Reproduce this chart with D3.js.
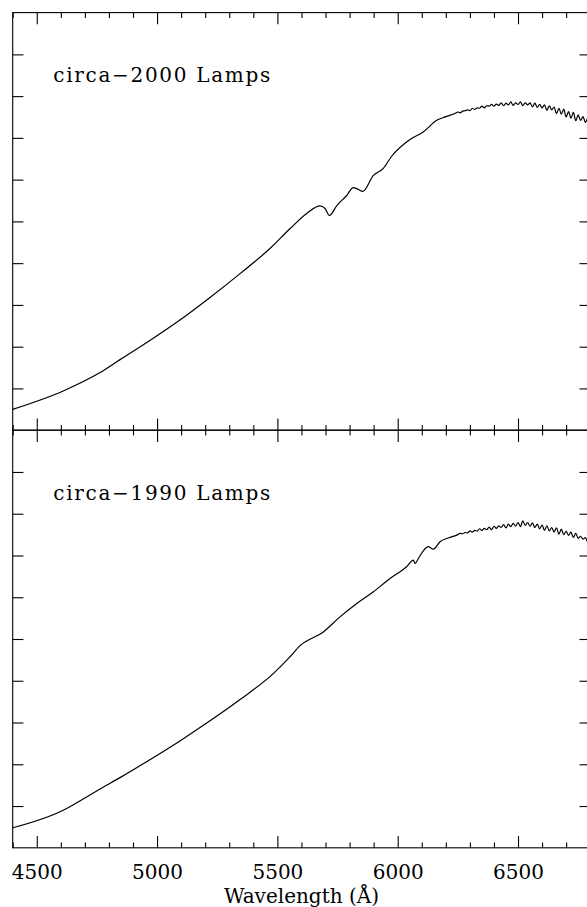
<!DOCTYPE html>
<html>
<head>
<meta charset="utf-8">
<script src="https://cdn.jsdelivr.net/npm/d3@7"></script>
<style>
  body { margin: 0; background: #fff; }
  svg { display: block; }
  text { font-family: "DejaVu Serif", serif; fill: #000; }
</style>
</head>
<body>
<svg id="grafica"></svg>
<script>
// Flat-field lamp spectra, two epochs, relative flux (arbitrary units)

const svg_w = 587;
const svg_h = 907;

// plot frame (the right edge falls just outside the picture)
const margin = {l: 12.7, r: 590.2, t: 12.6, b: 847.8};
const panel_h = (margin.b - margin.t) / 2;

// x axis
const wave_domain = [4400, 6800];
const major_ticks = [4500, 5000, 5500, 6000, 6500];
const minor_ticks = [4400, 4600, 4700, 4800, 4900, 5100, 5200, 5300, 5400, 5600, 5700, 5800, 5900,
  6100, 6200, 6300, 6400, 6600, 6700];
const flux_domain = [0, 10];
const flux_ticks = [1, 2, 3, 4, 5, 6, 7, 8, 9];

const labels = ["circa\u22122000 Lamps", "circa\u22121990 Lamps"];

// circa-2000 lamps
const wave2000 = [4400, 4610, 4763, 4846, 4970, 5095, 5220, 5345, 5469, 5553, 5622, 5677, 5698, 5716,
  5747, 5788, 5815, 5835, 5855, 5899, 5940, 5975, 6051, 6106, 6162, 6200,
  6240, 6250, 6260, 6270, 6280, 6290, 6300, 6310, 6320, 6330, 6340, 6350, 6360, 6370, 6380, 6390,
  6400, 6410, 6420, 6430, 6440, 6450, 6460, 6470, 6480, 6490, 6500, 6510, 6520, 6530, 6540, 6550,
  6560, 6570, 6580, 6590, 6600, 6610, 6620, 6630, 6640, 6650, 6660, 6670, 6680, 6690, 6700, 6710,
  6720, 6730, 6740, 6750, 6760, 6770, 6780, 6790, 6800];
const flux2000 = [0.50, 0.94, 1.38, 1.69, 2.15, 2.64, 3.18, 3.75, 4.35, 4.83, 5.19, 5.37, 5.31, 5.14,
  5.38, 5.62, 5.81, 5.77, 5.72, 6.10, 6.27, 6.56, 6.96, 7.14, 7.42, 7.51,
  7.59, 7.62, 7.60, 7.64, 7.65, 7.67, 7.65, 7.71, 7.68, 7.72, 7.71, 7.76, 7.72, 7.77, 7.76, 7.80,
  7.76, 7.81, 7.78, 7.84, 7.77, 7.83, 7.79, 7.86, 7.78, 7.84, 7.80, 7.86, 7.77, 7.84, 7.79, 7.84,
  7.74, 7.83, 7.73, 7.80, 7.72, 7.79, 7.66, 7.77, 7.67, 7.74, 7.58, 7.71, 7.57, 7.69, 7.50, 7.63,
  7.47, 7.61, 7.41, 7.55, 7.42, 7.51, 7.37, 7.47, 7.41];

// circa-1990 lamps
const wave1990 = [4400, 4610, 4693, 4763, 4846, 4970, 5095, 5220, 5345, 5483, 5552, 5594, 5691, 5760,
  5830, 5899, 5968, 6037, 6065, 6072, 6090, 6127, 6148, 6176, 6210,
  6250, 6260, 6270, 6280, 6290, 6300, 6310, 6320, 6330, 6340, 6350, 6360, 6370, 6380, 6390,
  6400, 6410, 6420, 6430, 6440, 6450, 6460, 6470, 6480, 6490, 6500, 6510, 6520, 6530, 6540, 6550,
  6560, 6570, 6580, 6590, 6600, 6610, 6620, 6630, 6640, 6650, 6660, 6670, 6680, 6690, 6700, 6710,
  6720, 6730, 6740, 6750, 6760, 6770, 6780, 6790, 6800];
const flux1990 = [0.48, 0.90, 1.17, 1.41, 1.68, 2.11, 2.56, 3.04, 3.55, 4.17, 4.57, 4.84, 5.17, 5.53,
  5.85, 6.13, 6.45, 6.73, 6.89, 6.81, 6.97, 7.21, 7.15, 7.33, 7.42,
  7.50, 7.53, 7.52, 7.55, 7.54, 7.59, 7.56, 7.60, 7.58, 7.64, 7.60, 7.65, 7.62, 7.68, 7.62,
  7.70, 7.65, 7.71, 7.67, 7.74, 7.66, 7.75, 7.69, 7.77, 7.70, 7.79, 7.69, 7.83, 7.72, 7.79, 7.70,
  7.78, 7.67, 7.75, 7.64, 7.73, 7.60, 7.71, 7.59, 7.67, 7.56, 7.66, 7.51, 7.63, 7.50, 7.58, 7.48,
  7.56, 7.43, 7.53, 7.41, 7.46, 7.39, 7.43, 7.32, 7.36];

let svg = d3.select("#grafica")
  .attr("width", svg_w)
  .attr("height", svg_h)

let x_scale = d3.scaleLinear()
  .domain(wave_domain)
  .range([margin.l, margin.r])

draw_panel(0, d3.zip(wave2000, flux2000), labels[0]);
draw_panel(1, d3.zip(wave1990, flux1990), labels[1]);

// wavelength tick labels and axis title under the lower panel
svg.append("g")
  .attr("transform", `translate(0,${margin.b})`)
  .call(d3.axisBottom(x_scale).tickValues(major_ticks).tickSize(0).tickPadding(17).tickFormat(d3.format("d")))
  .call(g => g.select(".domain").remove())
  .selectAll("text")
  .attr("font-family", "DejaVu Serif")
  .attr("font-size", 20)
  .attr("fill", "#000")

svg.append("text")
  .attr("x", (margin.l + margin.r) / 2)
  .attr("y", 902.7)
  .attr("text-anchor", "middle")
  .attr("font-size", 20)
  .text("Wavelength (\u00c5)")

function draw_panel(i, data, label) {
  const top = margin.t + i * panel_h;
  const bot = top + panel_h;

  let y_scale = d3.scaleLinear()
    .domain(flux_domain)
    .range([bot, top])

  let g = svg.append("g")

  // inward ticks on all four sides
  const axes = [
    {axis: d3.axisBottom(x_scale).tickValues(major_ticks).tickSize(-11.7), tr: `translate(0,${bot})`},
    {axis: d3.axisBottom(x_scale).tickValues(minor_ticks).tickSize(-5.3), tr: `translate(0,${bot})`},
    {axis: d3.axisTop(x_scale).tickValues(major_ticks).tickSize(-11.7), tr: `translate(0,${top})`},
    {axis: d3.axisTop(x_scale).tickValues(minor_ticks).tickSize(-5.3), tr: `translate(0,${top})`},
    {axis: d3.axisLeft(y_scale).tickValues(flux_ticks).tickSize(-10.7), tr: `translate(${margin.l},0)`},
    {axis: d3.axisRight(y_scale).tickValues(flux_ticks).tickSize(-10.7), tr: `translate(${margin.r},0)`}
  ];
  axes.forEach(a => {
    g.append("g")
      .attr("transform", a.tr)
      .call(a.axis.tickFormat(""))
      .call(s => s.select(".domain").remove())
      .selectAll("line")
      .attr("stroke", "#000")
      .attr("stroke-width", 1.1)
  });

  g.append("rect")
    .attr("x", margin.l)
    .attr("y", top)
    .attr("width", margin.r - margin.l)
    .attr("height", panel_h)
    .attr("fill", "none")
    .attr("stroke", "#000")
    .attr("stroke-width", 1.1)

  let line = d3.line()
    .x(d => x_scale(d[0]))
    .y(d => y_scale(d[1]))
    .curve(d3.curveMonotoneX)

  g.append("path")
    .datum(data)
    .attr("d", line)
    .attr("fill", "none")
    .attr("stroke", "#000")
    .attr("stroke-width", 1.2)
    .attr("stroke-linejoin", "round")

  g.append("text")
    .attr("x", 53.3)
    .attr("y", top + 69.6)
    .attr("font-size", 20)
    .attr("textLength", 217)
    .attr("lengthAdjust", "spacing")
    .text(label)
}
</script>
</body>
</html>
